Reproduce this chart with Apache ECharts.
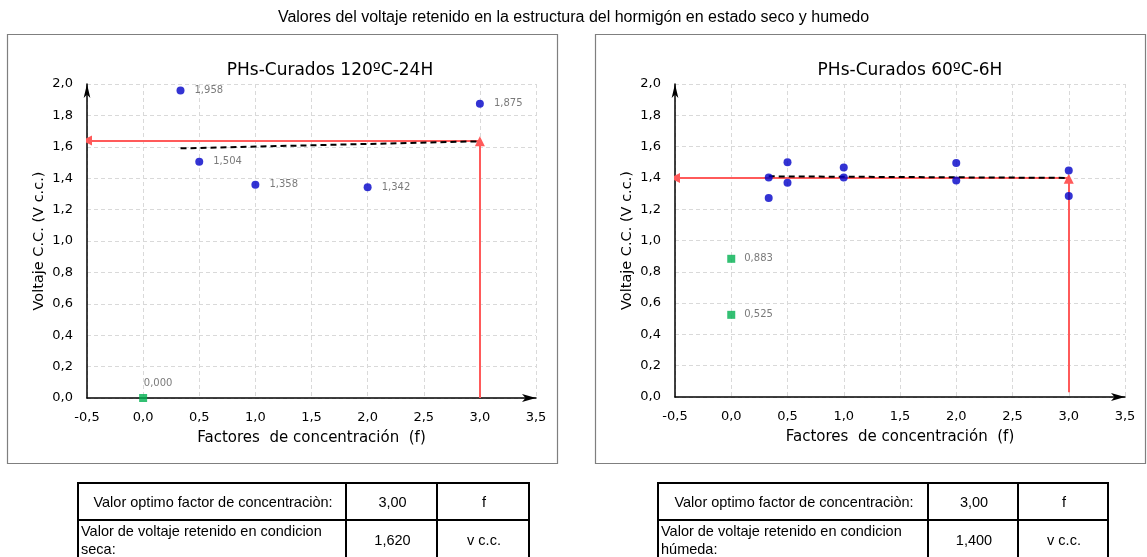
<!DOCTYPE html>
<html><head><meta charset="utf-8">
<script src="https://cdn.jsdelivr.net/npm/echarts@6/dist/echarts.min.js"></script>
<style>
html,body{margin:0;padding:0;background:#fff;}
#c{position:absolute;left:0;top:0;width:1147px;height:557px;}
table.t{position:absolute;border-collapse:collapse;font-family:"Liberation Sans",Arial,sans-serif;font-size:14.5px;color:#000;}
table.t td{border:2px solid #000;padding:0 0 0 2px;height:35px;line-height:18px;}
</style></head>
<body>
<div id="c"></div>
<table class="t" style="left:77px;top:482px;">
<tr><td style="width:264px;text-align:center">Valor optimo factor de concentraciòn:</td><td style="width:87px;text-align:center">3,00</td><td style="width:88px;text-align:center">f</td></tr>
<tr><td style="text-align:left;vertical-align:top;padding-top:1px">Valor de voltaje retenido en condicion seca:</td><td style="text-align:center">1,620</td><td style="text-align:center">v c.c.</td></tr>
</table>
<table class="t" style="left:657px;top:482px;">
<tr><td style="width:266px;text-align:center">Valor optimo factor de concentraciòn:</td><td style="width:86px;text-align:center">3,00</td><td style="width:86px;text-align:center">f</td></tr>
<tr><td style="text-align:left;vertical-align:top;padding-top:1px">Valor de voltaje retenido en condicion húmeda:</td><td style="text-align:center">1,400</td><td style="text-align:center">v c.c.</td></tr>
</table>
<script>
// ---- data ----
const mainTitle = 'Valores del voltaje retenido en la estructura del hormigón en estado seco y humedo';
const leftTitle = 'PHs-Curados 120ºC-24H';
const rightTitle = 'PHs-Curados 60ºC-6H';
const xName = 'Factores  de concentración  (f)';
const yName = 'Voltaje C.C. (V c.c.)';

const leftX = [0.333, 0.5, 1.0, 2.0, 3.0];
const leftY = [1.958, 1.504, 1.358, 1.342, 1.875];
const leftGreenX = [0.0];
const leftGreenY = [0.000];
const leftTrendX = [0.333, 3.0];
const leftTrendY = [1.59, 1.635];
const leftOptX = 3.0;
const leftOptY = 1.64;
const leftVertStart = 0.0;

const rightX = [0.333, 0.333, 0.5, 0.5, 1.0, 1.0, 2.0, 2.0, 3.0, 3.0];
const rightY = [1.403, 1.271, 1.500, 1.369, 1.467, 1.403, 1.495, 1.384, 1.448, 1.284];
const rightGreenX = [0.0, 0.0];
const rightGreenY = [0.883, 0.525];
const rightTrendX = [0.333, 3.0];
const rightTrendY = [1.41, 1.40];
const rightOptX = 3.0;
const rightOptY = 1.40;
const rightVertStart = 0.03;

const xMin = -0.5, xMax = 3.5, xStep = 0.5;
const yMin = 0, yMax = 2.0, yStep = 0.2;

// ---- chart ----
const FONT = '"DejaVu Sans", Verdana, sans-serif';
const fmt1 = v => v.toFixed(1).replace('.', ',');
const fmt3 = v => v.toFixed(3).replace('.', ',');
const zip = (a, b) => a.map((x, i) => [x, b[i]]);

function xAxis(gi) {
  return {
    type: 'value', gridIndex: gi, min: xMin, max: xMax, interval: xStep,
    name: xName, nameLocation: 'middle', nameGap: 33,
    nameTextStyle: {fontFamily: FONT, fontSize: 15, color: '#000'},
    axisLine: {onZero: false, lineStyle: {color: '#000', width: 1.5}, symbol: ['none', 'arrow'], symbolSize: [6, 14]},
    axisTick: {show: false},
    axisLabel: {fontFamily: FONT, fontSize: 13, color: '#000', margin: 13, formatter: fmt1},
    splitLine: {show: true, lineStyle: {color: '#d9d9d9', type: [4, 3], width: 1}}
  };
}
function yAxis(gi) {
  return {
    type: 'value', gridIndex: gi, min: yMin, max: yMax, interval: yStep,
    name: yName, nameLocation: 'middle', nameGap: 40, nameRotate: 90,
    nameTextStyle: {fontFamily: FONT, fontSize: 14.5, color: '#000'},
    axisLine: {show: true, onZero: false, lineStyle: {color: '#000', width: 1.5}, symbol: ['none', 'arrow'], symbolSize: [5, 14]},
    axisTick: {show: false},
    axisLabel: {fontFamily: FONT, fontSize: 13, color: '#000', margin: 14, formatter: fmt1},
    splitLine: {show: true, lineStyle: {color: '#d9d9d9', type: [4, 3], width: 1}}
  };
}
function blue(gi, data, labeled) {
  return {
    type: 'scatter', xAxisIndex: gi, yAxisIndex: gi, data, symbol: 'circle', symbolSize: 8, z: 5,
    itemStyle: {color: '#0000c8'},
    label: {show: labeled, position: 'right', distance: 10, fontFamily: FONT, fontSize: 10, color: '#595959',
      formatter: p => fmt3(p.value[1])}
  };
}
function green(gi, data, pos) {
  return {
    type: 'scatter', xAxisIndex: gi, yAxisIndex: gi, data, symbol: 'rect', symbolSize: 8, z: 5,
    itemStyle: {color: '#00b050'},
    label: {show: true, position: pos, distance: pos === 'right' ? 9 : 6, offset: pos === 'top' ? [15, 0] : [0, 0],
      fontFamily: FONT, fontSize: 10, color: '#595959', formatter: p => fmt3(p.value[1])}
  };
}
function trend(gi, xs, ys) {
  return {
    type: 'line', xAxisIndex: gi, yAxisIndex: gi, data: zip(xs, ys), showSymbol: false, z: 4,
    lineStyle: {color: '#000', width: 2, type: [6, 4]}, silent: true
  };
}
function arrows(gi, ox, oy, vstart) {
  return {
    type: 'lines', coordinateSystem: 'cartesian2d', xAxisIndex: gi, yAxisIndex: gi, z: 3,
    symbol: ['none', 'triangle'], symbolSize: 10,
    lineStyle: {color: '#ff5a5a', width: 2, opacity: 1},
    itemStyle: {color: '#ff0000'},
    data: [
      {coords: [[ox, oy], [xMin, oy]]},
      {coords: [[ox, vstart], [ox, oy - 0.005]]}
    ]
  };
}

const chart = echarts.init(document.getElementById('c'), null, {renderer: 'canvas'});
chart.setOption({
  backgroundColor: '#fff',
  animation: false,
  title: [
    {text: mainTitle, left: 'center', top: 5, textStyle: {fontFamily: '"Liberation Sans", Arial, sans-serif', fontSize: 16, fontWeight: 'normal', color: '#000'}},
    {text: leftTitle, left: 325, textAlign: 'center', top: 57, textStyle: {fontFamily: FONT, fontSize: 17, fontWeight: 'normal', color: '#000'}},
    {text: rightTitle, left: 905, textAlign: 'center', top: 57, textStyle: {fontFamily: FONT, fontSize: 17, fontWeight: 'normal', color: '#000'}}
  ],
  graphic: [
    {type: 'rect', shape: {x: 7.5, y: 34.5, width: 550, height: 429}, style: {fill: 'none', stroke: '#7f7f7f', lineWidth: 1.2}, z: -1},
    {type: 'rect', shape: {x: 595.5, y: 34.5, width: 550, height: 429}, style: {fill: 'none', stroke: '#7f7f7f', lineWidth: 1.2}, z: -1}
  ],
  grid: [
    {left: 87, right: 611, top: 84, bottom: 159},
    {left: 675, right: 22, top: 84, bottom: 160}
  ],
  xAxis: [xAxis(0), xAxis(1)],
  yAxis: [yAxis(0), yAxis(1)],
  series: [
    arrows(0, leftOptX, leftOptY, leftVertStart),
    trend(0, leftTrendX, leftTrendY),
    blue(0, zip(leftX, leftY), true),
    green(0, zip(leftGreenX, leftGreenY), 'top'),
    arrows(1, rightOptX, rightOptY, rightVertStart),
    trend(1, rightTrendX, rightTrendY),
    blue(1, zip(rightX, rightY), false),
    green(1, zip(rightGreenX, rightGreenY), 'right')
  ]
});
</script>
</body></html>
